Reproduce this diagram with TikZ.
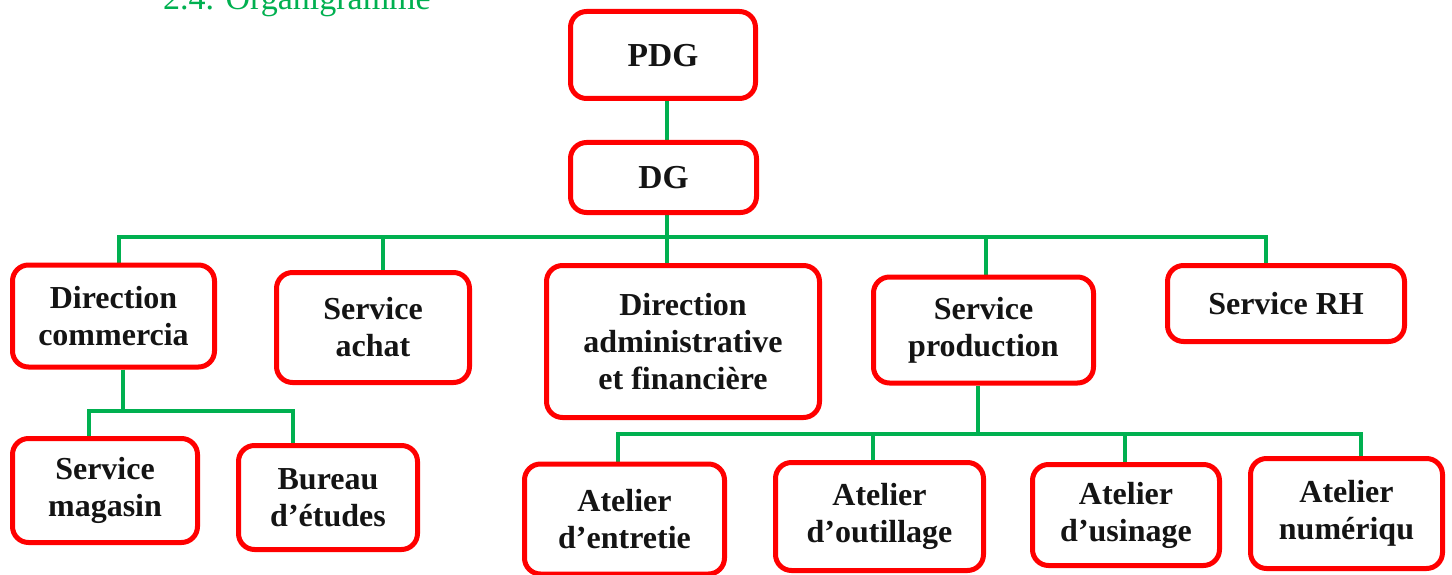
\documentclass[tikz,border=0pt]{standalone}
\usepackage{fontspec}
\setmainfont{Liberation Serif}
\usetikzlibrary{backgrounds}
\definecolor{boxred}{RGB}{255,0,0}
\definecolor{linegreen}{RGB}{0,176,80}
\begin{document}
\begin{tikzpicture}[x=1pt,y=-1pt,
  box/.style={draw=boxred, line width=5pt, rounded corners=16pt, fill=white,
    align=center, inner sep=0pt, text=black!92,
    font=\fontsize{32}{37}\selectfont\bfseries},
  bigtext/.style={font=\fontsize{33.5}{38}\selectfont\bfseries, text depth=0pt},
  conn/.style={draw=linegreen, line width=3.3pt}]
\useasboundingbox (0,0) rectangle (1452,575);

\node[anchor=base west, text=linegreen, inner sep=0pt,
      font=\fontsize{34}{40}\selectfont] (title) at (163,10) {2.4. Organigramme};

% level 0 / 1
\node[box, bigtext, minimum width=185pt, minimum height=87pt] (pdg) at (663,55) {PDG};
\node[box, bigtext, minimum width=186pt, minimum height=70pt] (dg) at (663.5,177.5) {DG};

% level 2
\node[box, minimum width=202pt, minimum height=102pt] (dc) at (113.5,316) {Direction\\commercia};
\node[box, minimum width=193pt, minimum height=110pt] (sa) at (373,327.5) {Service\\achat};
\node[box, minimum width=273pt, minimum height=152pt] (daf) at (683,341.5) {Direction\\administrative\\et financière};
\node[box, minimum width=220pt, minimum height=106pt] (sp) at (983.5,330) {Service\\production};
\node[box, text depth=0pt, minimum width=237pt, minimum height=76pt] (rh) at (1286,303.5) {Service RH};

% level 3
\node[box, minimum width=185pt, minimum height=104pt] (sm) at (105,490.5) {Service\\magasin};
\node[box, minimum width=179pt, minimum height=104pt] (be) at (328,497.5) {Bureau\\d’études};
\node[box, minimum width=200pt, minimum height=110pt] (ae) at (624.5,519) {Atelier\\d’entretie};
\node[box, minimum width=208pt, minimum height=108pt] (ao) at (879.5,516.5) {Atelier\\d’outillage};
\node[box, minimum width=187pt, minimum height=101pt] (au) at (1126,515) {Atelier\\d’usinage};
\node[box, minimum width=192pt, minimum height=110pt] (an) at (1346.5,513.5) {Atelier\\numériqu};

% junction coordinates
\coordinate (spine) at (667,237);
\coordinate (busL) at (119,237);
\coordinate (busA) at (383,237);
\coordinate (busP) at (986,237);
\coordinate (busR) at (1266,237);
\coordinate (dcj) at (123,411);
\coordinate (smj) at (89,411);
\coordinate (bej) at (293,411);
\coordinate (spj) at (978,434);
\coordinate (j1) at (618,434);
\coordinate (j2) at (873,434);
\coordinate (j3) at (1125,434);
\coordinate (j4) at (1361,434);

\begin{pgfonlayer}{background}
  \fill[white] (0,0) rectangle (1452,575);
  \draw[conn] (spine |- pdg.south) -- (spine |- daf.north);
  \draw[conn] (busL |- dc.north) -- (busL) -- (busR) -- (busR |- rh.north);
  \draw[conn] (busA) -- (busA |- sa.north);
  \draw[conn] (busP) -- (busP |- sp.north);
  \draw[conn] (dcj |- dc.south) -- (dcj);
  \draw[conn] (smj |- sm.north) -- (smj) -- (bej) -- (bej |- be.north);
  \draw[conn] (spj |- sp.south) -- (spj);
  \draw[conn] (j1 |- ae.north) -- (j1) -- (j4) -- (j4 |- an.north);
  \draw[conn] (j2) -- (j2 |- ao.north);
  \draw[conn] (j3) -- (j3 |- au.north);
\end{pgfonlayer}
\end{tikzpicture}
\end{document}
